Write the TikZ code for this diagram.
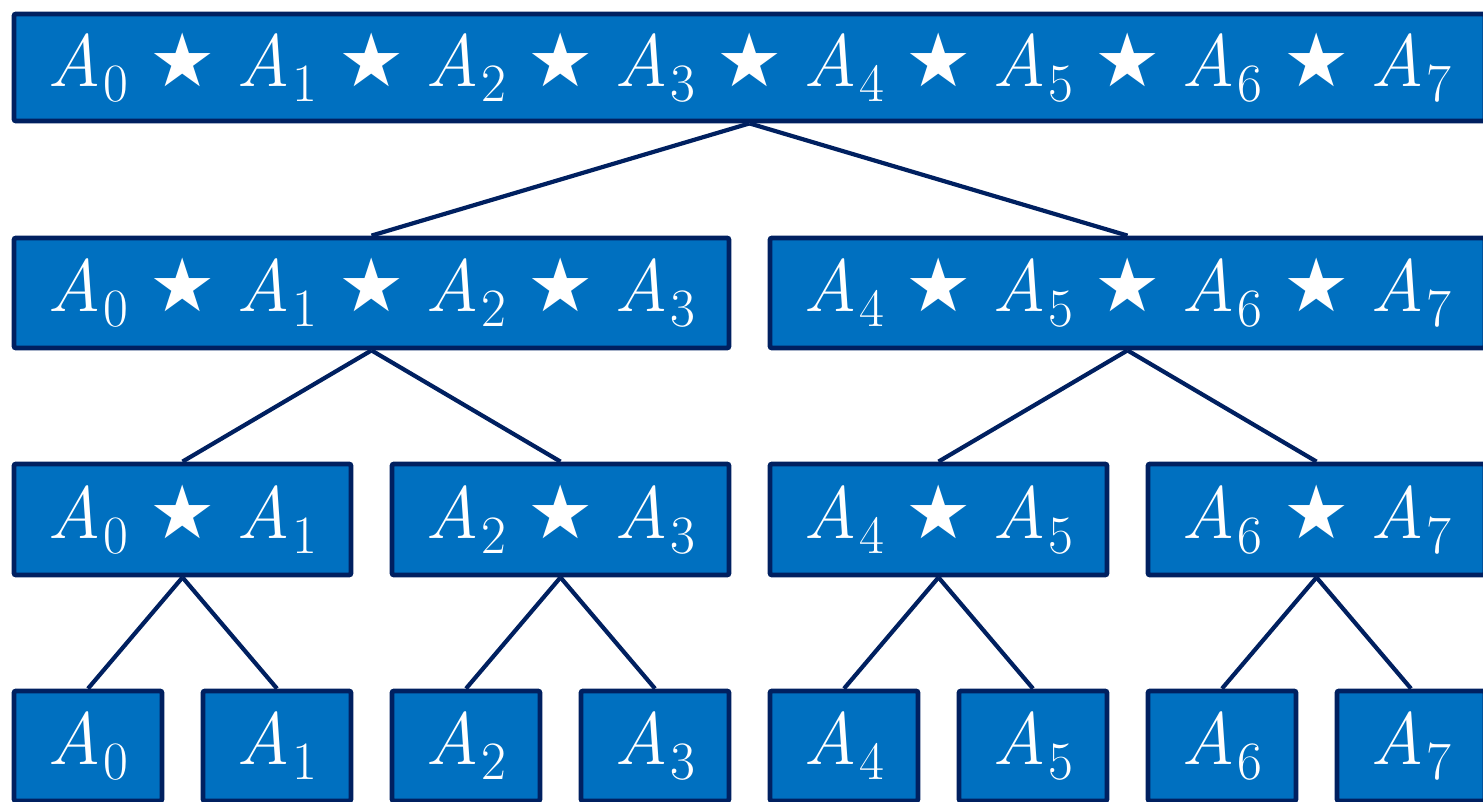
\documentclass[tikz,border=0pt]{standalone}
\usepackage{fontspec}
\newfontfamily\symfont{DejaVu Sans}
\definecolor{boxfill}{HTML}{0070C0}
\definecolor{boxline}{HTML}{002060}
\newcommand{\stt}{\hspace{21pt}{\symfont\fontsize{74}{74}\selectfont ★}\hspace{21pt}}
\newcommand{\Asub}[1]{{\fontsize{74}{80}\selectfont\itshape A}\kern2pt\raisebox{-15pt}{\fontsize{54}{60}\selectfont #1}}
\begin{document}
\begin{tikzpicture}[x=1pt,y=-1pt,
  box/.style={rectangle, draw=boxline, fill=boxfill, line width=4.8pt, rounded corners=2pt,
    text=white, inner sep=0pt},
  link/.style={draw=boxline, line width=4.2pt}]
\useasboundingbox (0,0) rectangle (1483,802);
\clip (0,0) rectangle (1483,802);
% level 0
\node[box, minimum width=1471pt, minimum height=107pt] (r) at (749.5,67.5)
  {\Asub0\stt\Asub1\stt\Asub2\stt\Asub3\stt\Asub4\stt\Asub5\stt\Asub6\stt\Asub7};
% level 1
\node[box, minimum width=715pt, minimum height=110pt] (l) at (371.5,293)
  {\Asub0\stt\Asub1\stt\Asub2\stt\Asub3};
\node[box, minimum width=715pt, minimum height=110pt] (rr) at (1127.5,293)
  {\Asub4\stt\Asub5\stt\Asub6\stt\Asub7};
% level 2
\node[box, minimum width=337pt, minimum height=111pt] (m01) at (182.5,519.5) {\Asub0\stt\Asub1};
\node[box, minimum width=337pt, minimum height=111pt] (m23) at (560.5,519.5) {\Asub2\stt\Asub3};
\node[box, minimum width=337pt, minimum height=111pt] (m45) at (938.5,519.5) {\Asub4\stt\Asub5};
\node[box, minimum width=337pt, minimum height=111pt] (m67) at (1316.5,519.5) {\Asub6\stt\Asub7};
% level 3
\foreach \i/\x in {0/88,1/277,2/466,3/655,4/844,5/1033,6/1222,7/1411}{
  \node[box, minimum width=148pt, minimum height=110pt] (a\i) at (\x,746) {\Asub{\i}};
}
% connectors
\draw[link] (r.south) -- (l.north);
\draw[link] (r.south) -- (rr.north);
\draw[link] (l.south) -- (m01.north);
\draw[link] (l.south) -- (m23.north);
\draw[link] (rr.south) -- (m45.north);
\draw[link] (rr.south) -- (m67.north);
\draw[link] (m01.south) -- (a0.north);
\draw[link] (m01.south) -- (a1.north);
\draw[link] (m23.south) -- (a2.north);
\draw[link] (m23.south) -- (a3.north);
\draw[link] (m45.south) -- (a4.north);
\draw[link] (m45.south) -- (a5.north);
\draw[link] (m67.south) -- (a6.north);
\draw[link] (m67.south) -- (a7.north);
\end{tikzpicture}
\end{document}
